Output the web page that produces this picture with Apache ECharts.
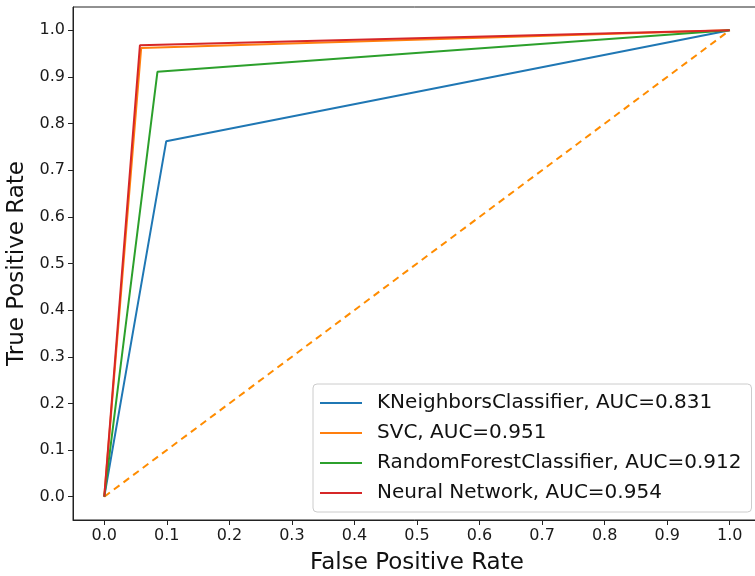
<!DOCTYPE html>
<html>
<head>
<meta charset="utf-8">
<script src="https://cdn.jsdelivr.net/npm/echarts@6/dist/echarts.min.js"></script>
<style>
  html, body { margin: 0; padding: 0; background: #fff; }
  #roc { width: 755px; height: 576px; }
</style>
</head>
<body>
<div id="roc"></div>
<script>
// ROC points
var modelNames = ['KNeighborsClassifier, AUC=0.831', 'SVC, AUC=0.951', 'RandomForestClassifier, AUC=0.912', 'Neural Network, AUC=0.954'];
var knnFpr = [0, 0.099, 1];
var knnTpr = [0, 0.762, 1];
var svcFpr = [0, 0.059, 1];
var svcTpr = [0, 0.962, 1];
var rfFpr = [0, 0.085, 1];
var rfTpr = [0, 0.911, 1];
var nnFpr = [0, 0.057, 1];
var nnTpr = [0, 0.968, 1];
var chanceFpr = [0, 1];
var chanceTpr = [0, 1];
var tickValues = [0, 0.1, 0.2, 0.3, 0.4, 0.5, 0.6, 0.7, 0.8, 0.9, 1.0];

var colors = ['#1f77b4', '#ff7f0e', '#2ca02c', '#d62728'];

function pairs(xs, ys) {
    return xs.map(function (x, i) { return [x, ys[i]]; });
}

var curves = [
    pairs(knnFpr, knnTpr),
    pairs(svcFpr, svcTpr),
    pairs(rfFpr, rfTpr),
    pairs(nnFpr, nnTpr)
];

var chart = echarts.init(document.getElementById('roc'));

var series = curves.map(function (d, i) {
    return {
        name: modelNames[i], type: 'line', data: d, symbol: 'none',
        lineStyle: {color: colors[i], width: 2}, itemStyle: {color: colors[i]}, z: 3
    };
});
series.push({
    name: 'chance', type: 'line', data: pairs(chanceFpr, chanceTpr), symbol: 'none',
    lineStyle: {color: '#ff8c00', width: 2, type: [7, 5]}, z: 2
});

var axisCommon = {
    type: 'value', min: -0.05, max: 1.05,
    splitLine: {show: false},
    axisLine: {show: true, onZero: false, lineStyle: {color: '#222', width: 1}},
    axisTick: {show: true, inside: false, length: 5, customValues: tickValues, lineStyle: {color: '#222'}},
    axisLabel: {
        customValues: tickValues, color: '#1a1a1a', fontSize: 16, fontFamily: 'DejaVu Sans',
        formatter: function (v) { return v.toFixed(1); }
    },
    nameLocation: 'middle',
    nameTextStyle: {color: '#111', fontSize: 23, fontFamily: 'DejaVu Sans'}
};

chart.setOption({
    animation: false,
    backgroundColor: '#fff',
    grid: {
        left: 73, top: 7, width: 688, height: 513, outerBoundsMode: 'none',
        show: true, borderColor: '#222', borderWidth: 1, backgroundColor: 'transparent'
    },
    legend: {
        data: modelNames, orient: 'vertical', left: 313, top: 384,
        backgroundColor: '#fff', borderColor: '#ccc', borderWidth: 1, borderRadius: 4,
        padding: [9, 10, 9, 7], itemGap: 10, itemWidth: 42, itemHeight: 2, icon: 'rect',
        textStyle: {fontSize: 20, color: '#111', fontFamily: 'DejaVu Sans', padding: [0, 0, 0, 10]}
    },
    xAxis: Object.assign({}, axisCommon, {name: 'False Positive Rate', nameGap: 32}),
    yAxis: Object.assign({}, axisCommon, {name: 'True Positive Rate', nameGap: 43}),
    series: series
});
</script>
</body>
</html>
